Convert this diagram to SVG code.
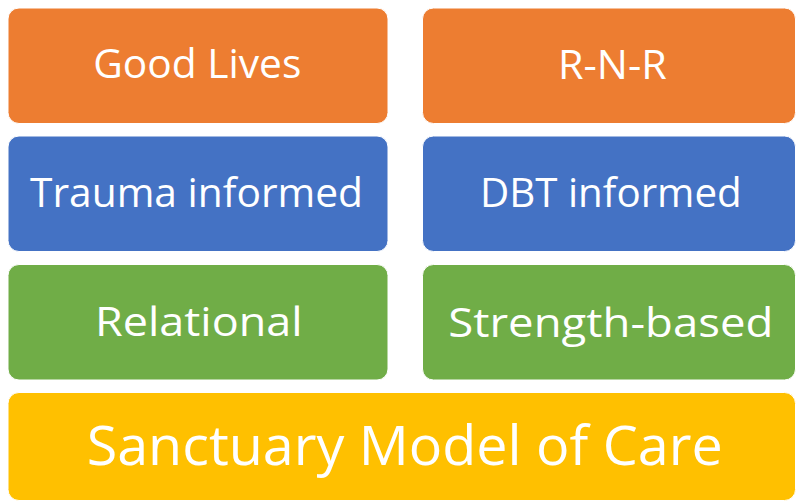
<svg xmlns="http://www.w3.org/2000/svg" width="796" height="502" viewBox="0 0 796 502">
<style>
.box{stroke:#ffffff;stroke-width:1}
.orange{fill:#ED7D31}
.blue{fill:#4472C4}
.green{fill:#70AD47}
.yellow{fill:#FFC000}
.lbl{font-family:"Open Sans","Noto Sans","Liberation Sans",sans-serif;font-size:41px;fill:#ffffff}
.big{font-size:54px}
</style>
<rect width="796" height="502" fill="#ffffff"/>
<g id="good-lives">
<rect class="box orange" x="8" y="8" width="380" height="115.5" rx="11"/>
<text class="lbl" x="93.3" y="78" textLength="208" lengthAdjust="spacingAndGlyphs">Good Lives</text>
</g>
<g id="rnr">
<rect class="box orange" x="422.5" y="8" width="373" height="115.5" rx="11"/>
<text class="lbl" x="558" y="78.5" textLength="108.7" lengthAdjust="spacingAndGlyphs">R-N-R</text>
</g>
<g id="trauma-informed">
<rect class="box blue" x="8" y="136" width="380" height="115.5" rx="11"/>
<text class="lbl" x="30" y="207" textLength="333" lengthAdjust="spacingAndGlyphs">Trauma informed</text>
</g>
<g id="dbt-informed">
<rect class="box blue" x="422.5" y="136" width="373" height="115.5" rx="11"/>
<text class="lbl" x="480" y="207" textLength="261.7" lengthAdjust="spacingAndGlyphs">DBT informed</text>
</g>
<g id="relational">
<rect class="box green" x="8" y="264.5" width="380" height="115.5" rx="11"/>
<text class="lbl" x="95" y="335.7" textLength="207.7" lengthAdjust="spacingAndGlyphs">Relational</text>
</g>
<g id="strength-based">
<rect class="box green" x="422.5" y="264.5" width="373" height="115.5" rx="11"/>
<text class="lbl" x="448.3" y="336.5" textLength="325" lengthAdjust="spacingAndGlyphs">Strength-based</text>
</g>
<g id="sanctuary">
<rect class="box yellow" x="8" y="392.5" width="787.5" height="108" rx="11"/>
<text class="lbl big" x="86.7" y="465" textLength="636" lengthAdjust="spacingAndGlyphs">Sanctuary Model of Care</text>
</g>
<g id="connectors"/>
</svg>
